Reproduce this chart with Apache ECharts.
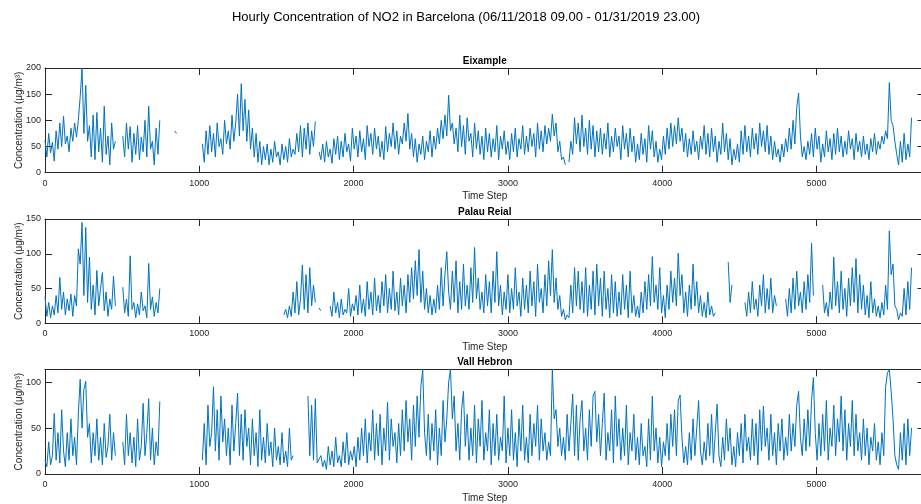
<!DOCTYPE html>
<html><head><meta charset="utf-8">
<script src="https://cdn.jsdelivr.net/npm/echarts@6/dist/echarts.min.js"></script>
<style>html,body{margin:0;padding:0;background:#fff}#c{width:921px;height:504px}</style>
</head><body><div id="c"></div>
<script>
const STEP = 12; // hours between stored readings (index * STEP = time step)
const mainTitle = 'Hourly Concentration of NO2 in Barcelona (06/11/2018 09.00 - 01/31/2019 23.00)';
const stations = ['Eixample', 'Palau Reial', 'Vall Hebron'];
const xName = 'Time Step';
const yName = 'Concentration (\u03bcg/m\u00b3)';
const xMax = 5700;
const xInterval = 1000;
const yMaxes = [200, 150, 114];
const yInterval = 50;

const eixample = [
62, 30, 75, 38, 58, 22, 80, 45, 95, 50,
108, 55, 70, 40, 85, 60, 95, 68, 100, 145,
200, 75, 167, 60, 90, 30, 110, 25, 115, 40,
85, 20, 127, 35, 70, 15, 95, 45, 60, null,
null, null, 70, 30, 95, 45, 88, 20, 75, 35,
90, 25, 68, 40, 100, 30, 127, 45, 60, 15,
85, 35, 100, null, null, null, null, null, null, null,
80, 75, null, null, null, null, null, null, null, null,
null, null, null, null, null, 55, 20, 80, 35, 90,
40, 75, 30, 95, 50, 65, 35, 100, 55, 80,
45, 110, 60, 95, 150, 70, 170, 80, 140, 60,
120, 45, 85, 30, 75, 20, 60, 15, 50, 25,
55, 15, 45, 20, 60, 30, 40, 15, 55, 25,
50, 20, 65, 30, 45, 35, 75, 40, 90, 30,
85, 45, 95, 35, 80, 50, 98, null, 40, 25,
55, 20, 60, 30, 45, 18, 65, 35, 70, 25,
60, 30, 75, 40, 55, 22, 85, 45, 70, 30,
80, 40, 65, 25, 90, 50, 75, 35, 85, 45,
70, 30, 60, 25, 88, 40, 75, 50, 95, 45,
80, 35, 70, 55, 95, 60, 113, 45, 75, 30,
65, 20, 55, 35, 70, 25, 60, 40, 80, 30,
70, 45, 85, 55, 100, 65, 110, 70, 148, 80,
95, 55, 85, 40, 110, 50, 90, 35, 105, 60,
75, 30, 95, 45, 80, 35, 70, 25, 85, 40,
75, 30, 65, 40, 90, 25, 70, 45, 80, 35,
60, 25, 75, 40, 85, 30, 65, 45, 90, 35,
70, 40, 85, 50, 75, 30, 95, 45, 80, 40,
90, 55, 85, 60, 112, 70, 95, 40, 60, 25,
30, 15, null, 20, 60, 35, 105, 55, 95, 40,
110, 50, 85, 35, 100, 45, 90, 30, 80, 40,
85, 35, 75, 45, 95, 30, 70, 40, 85, 50,
70, 25, 90, 45, 75, 30, 85, 40, 70, 20,
55, 25, 75, 35, 65, 20, 90, 45, 80, 30,
60, 20, 45, 25, 70, 35, 85, 45, 95, 50,
90, 55, 105, 60, 85, 40, 75, 30, 65, 35,
80, 40, 60, 25, 70, 45, 90, 35, 75, 30,
85, 40, 70, 20, 60, 35, 95, 40, 75, 25,
65, 15, 45, 25, 55, 20, 80, 35, 90, 40,
70, 30, 85, 45, 75, 35, 95, 50, 80, 40,
90, 35, 70, 25, 60, 30, 45, 20, 55, 30,
65, 40, 85, 45, 100, 55, 125, 152, 70, 30,
50, 25, 60, 35, 75, 30, 85, 45, 70, 20,
55, 30, 80, 40, 65, 25, 75, 35, 85, 40,
70, 30, 60, 35, 80, 45, 65, 25, 75, 40,
60, 30, 70, 35, 55, 25, 65, 40, 75, 35,
60, 45, 70, 55, 80, 65, 172, 100, 90, 60,
35, 15, 60, 20, 75, 25, 55, 30, 105, null
];

const palauReial = [
38, 10, 30, 8, 25, 12, 40, 15, 66, 20,
45, 12, 35, 18, 42, 10, 40, 25, 107, 85,
145, 40, 138, 30, 95, 20, 55, 12, 76, 25,
50, 73, 18, 45, 10, 35, 20, 68, 25, null,
null, null, 52, 15, 35, 10, 97, 20, 30, 8,
28, 12, 45, 18, 25, 8, 86, 20, 38, 10,
30, 15, 50, null, null, null, null, null, null, null,
null, null, null, null, null, null, null, null, null, null,
null, null, null, null, null, null, null, null, null, null,
null, null, null, null, null, null, null, null, null, null,
null, null, null, null, null, null, null, null, null, null,
null, null, null, null, null, null, null, null, null, null,
null, null, null, null, null, null, null, null, null, 12,
20, 8, 25, 10, 45, 15, 60, 12, 35, 84,
20, 70, 15, 80, 25, 55, 30, null, 22, 18,
null, null, null, null, 25, 10, 45, 15, 30, 8,
35, 12, 20, 15, 50, 10, 28, 18, 40, 12,
55, 15, 35, 10, 60, 20, 45, 12, 65, 18,
40, 15, 60, 25, 70, 15, 50, 20, 75, 18,
45, 12, 65, 25, 55, 15, 70, 30, 80, 35,
90, 40, 106, 30, 75, 20, 50, 15, 40, 12,
35, 15, 55, 20, 80, 25, 70, 103, 45, 20,
75, 30, 90, 15, 60, 20, 85, 25, 55, 20,
80, 30, 109, 35, 65, 20, 45, 15, 70, 25,
60, 15, 75, 30, 103, 25, 55, 12, 45, 20,
70, 15, 50, 20, 80, 25, 45, 10, 65, 20,
55, 15, 75, 25, 60, 10, 85, 30, 50, 15,
70, 25, 90, 40, 106, 30, 65, 20, 40, 10,
20, 5, 12, 8, 55, 15, 80, 25, 75, 20,
60, 15, 80, 10, 55, 20, 75, 12, 85, 25,
65, 10, 75, 20, 50, 8, 70, 15, 60, 10,
45, 12, 70, 20, 55, 8, 75, 15, 40, 10,
25, 8, 45, 15, 60, 20, 70, 25, 96, 30,
55, 20, 80, 15, 40, 8, 55, 20, 75, 30,
65, 25, 101, 40, 70, 15, 45, 10, 55, 20,
85, 25, 60, 15, 40, 10, 30, 8, 45, 12,
25, 10, 15, null, null, null, null, null, null, 88,
30, 55, null, null, null, null, null, null, 30, 10,
45, 15, 60, 20, 35, 10, 55, 25, 70, 15,
50, 20, 65, 15, 40, 25, null, null, null, null,
35, 10, 50, 15, 65, 20, 75, 25, 45, 15,
60, 20, 70, 30, 115, 40, null, null, null, null,
55, 15, 30, 10, 45, 20, 95, 25, 60, 15,
75, 20, 50, 10, 65, 25, 80, 30, 93, 15,
70, 20, 55, 12, 40, 8, 60, 15, 35, 10,
25, 8, 30, 12, 55, 20, 133, 70, 85, 25,
20, 5, 15, 10, 50, 12, 60, 20, 80, null
];

const vallHebron = [
15, 8, 35, 10, 20, 66, 15, 45, 12, 70,
25, 8, 45, 15, 60, 20, 40, 10, 65, 103,
50, 92, 101, 40, 55, 12, 45, 20, 60, 15,
40, 10, 55, 18, 30, 65, 15, 45, 20, null,
null, null, 35, 10, 65, 20, 45, 12, 40, 8,
60, 15, 30, 77, 20, 45, 82, 15, 50, 10,
35, 20, 79, null, null, null, null, null, null, null,
null, null, null, null, null, null, null, null, null, null,
null, null, null, null, null, 15, 55, 10, 75, 30,
45, 95, 25, 70, 15, 85, 35, 60, 20, 50,
10, 75, 25, 55, 88, 20, 65, 15, 70, 30,
50, 10, 60, 20, 45, 8, 70, 15, 40, 12,
55, 20, 35, 8, 50, 15, 30, 10, 45, 12,
25, 8, 50, 15, 20, null, null, null, null, null,
null, null, 85, 20, 75, 15, 82, 12, 10, 20,
8, 15, 5, 30, 10, 25, 8, 40, 12, 20,
8, 35, 12, 45, 10, 25, 15, 30, 8, 40,
15, 50, 20, 60, 12, 45, 25, 70, 15, 55,
20, 65, 10, 50, 25, 78, 15, 60, 30, 45,
12, 55, 20, 70, 25, 80, 35, 60, 15, 75,
30, 85, 40, 95, 114, 45, 20, 65, 15, 55,
25, 70, 10, 50, 20, 80, 35, 60, 100, 114,
60, 85, 25, 55, 15, 70, 90, 30, 65, 15,
50, 20, 75, 12, 60, 30, 80, 15, 45, 25,
70, 10, 55, 20, 65, 15, 40, 25, 85, 12,
50, 20, 70, 15, 45, 8, 60, 25, 75, 15,
40, 12, 65, 20, 55, 30, 75, 15, 60, 25,
45, 15, 35, 20, 114, 60, 70, 30, 50, 20,
40, 15, 65, 25, 55, 87, 20, 75, 15, 60,
80, 25, 50, 15, 70, 30, 85, 90, 35, 65,
20, 55, 88, 15, 45, 25, 70, 12, 85, 30,
60, 15, 50, 20, 75, 10, 45, 25, 65, 15,
40, 10, 55, 20, 30, 8, 60, 15, 85, 25,
50, 12, 40, 8, 35, 20, 55, 15, 65, 30,
70, 20, 80, 86, 40, 12, 30, 10, 45, 15,
60, 20, 50, 80, 25, 10, 35, 15, 55, 20,
65, 12, 45, 76, 20, 8, 40, 15, 60, 25,
50, 10, 30, 8, 45, 20, 55, 12, 65, 25,
40, 15, 60, 20, 55, 10, 70, 25, 74, 30,
50, 15, 65, 20, 45, 10, 55, 25, 60, 15,
40, 20, 65, 25, 55, 30, 75, 90, 40, 20,
60, 25, 70, 30, 80, 105, 45, 15, 55, 20,
65, 25, 80, 15, 50, 30, 75, 20, 60, 35,
85, 25, 70, 15, 55, 30, 80, 20, 65, 25,
45, 15, 60, 20, 50, 10, 40, 25, 55, 15,
35, 10, 45, 20, 95, 110, 114, 90, 60, 20,
10, 5, 45, 15, 55, 10, 60, 20, 50, null
];

const seriesValues = [eixample, palauReial, vallHebron];

const FONT = '"Liberation Sans", Arial, Helvetica, sans-serif';
const TXT = '#262626';
const gridTops = [68, 219, 369.3];
const gridHeights = [104.7, 104.3, 104.7];
const gridLeft = 45;
const gridWidth = 879.5;
const subTitleTops = [56, 207, 357];

const grids = [], xAxes = [], yAxes = [], series = [], titles = [];
titles.push({ text: mainTitle, left: 466, top: 11, textAlign: 'center', padding: 0,
  textStyle: { fontFamily: FONT, fontSize: 13, fontWeight: 'normal', color: '#000' } });

for (let k = 0; k < 3; k++) {
  grids.push({ left: gridLeft, top: gridTops[k], width: gridWidth, height: gridHeights[k],
    containLabel: false, outerBoundsMode: 'none' });
  titles.push({ text: stations[k], left: gridLeft + gridWidth / 2, top: subTitleTops[k], textAlign: 'center', padding: 0,
    textStyle: { fontFamily: FONT, fontSize: 10, fontWeight: 'bold', color: '#000' } });
  const axLine = { show: true, onZero: false, lineStyle: { color: TXT, width: 1 } };
  const tick = { show: true, inside: true, length: 7, lineStyle: { color: TXT } };
  const plain = v => String(v);
  xAxes.push({ gridIndex: k, type: 'value', position: 'bottom', min: 0, max: xMax, interval: xInterval,
    axisLine: axLine, axisTick: tick, splitLine: { show: false },
    axisLabel: { fontFamily: FONT, fontSize: 9, color: TXT, margin: 6, showMaxLabel: false, formatter: plain },
    name: xName, nameLocation: 'middle', nameGap: 19, nameMoveOverlap: false,
    nameTextStyle: { fontFamily: FONT, fontSize: 10, color: TXT } });
  xAxes.push({ gridIndex: k, type: 'value', position: 'top', min: 0, max: xMax, interval: xInterval,
    axisLine: axLine, axisTick: tick, splitLine: { show: false }, axisLabel: { show: false } });
  yAxes.push({ gridIndex: k, type: 'value', position: 'left', min: 0, max: yMaxes[k], interval: yInterval,
    axisLine: axLine, axisTick: tick, splitLine: { show: false },
    axisLabel: { fontFamily: FONT, fontSize: 9, color: TXT, margin: 4, formatter: plain,
      showMaxLabel: yMaxes[k] % yInterval === 0 },
    name: yName, nameLocation: 'middle', nameGap: 21, nameMoveOverlap: false,
    nameTextStyle: { fontFamily: FONT, fontSize: 10, color: TXT } });
  yAxes.push({ gridIndex: k, type: 'value', position: 'right', min: 0, max: yMaxes[k], interval: yInterval,
    axisLine: axLine, axisTick: tick, splitLine: { show: false }, axisLabel: { show: false } });
  const vals = seriesValues[k];
  series.push({
    type: 'line', xAxisIndex: 2 * k, yAxisIndex: 2 * k,
    data: vals.map((v, i) => [i * STEP, v === null ? '-' : v]),
    showSymbol: false, connectNulls: false, clip: true,
    lineStyle: { color: '#0072BD', width: 1 }, itemStyle: { color: '#0072BD' },
    emphasis: { disabled: true }
  });
}

const chart = echarts.init(document.getElementById('c'), null, { renderer: 'canvas' });
chart.setOption({
  animation: false,
  backgroundColor: '#fff',
  title: titles,
  grid: grids,
  xAxis: xAxes,
  yAxis: yAxes,
  series: series
});
</script>
</body></html>
